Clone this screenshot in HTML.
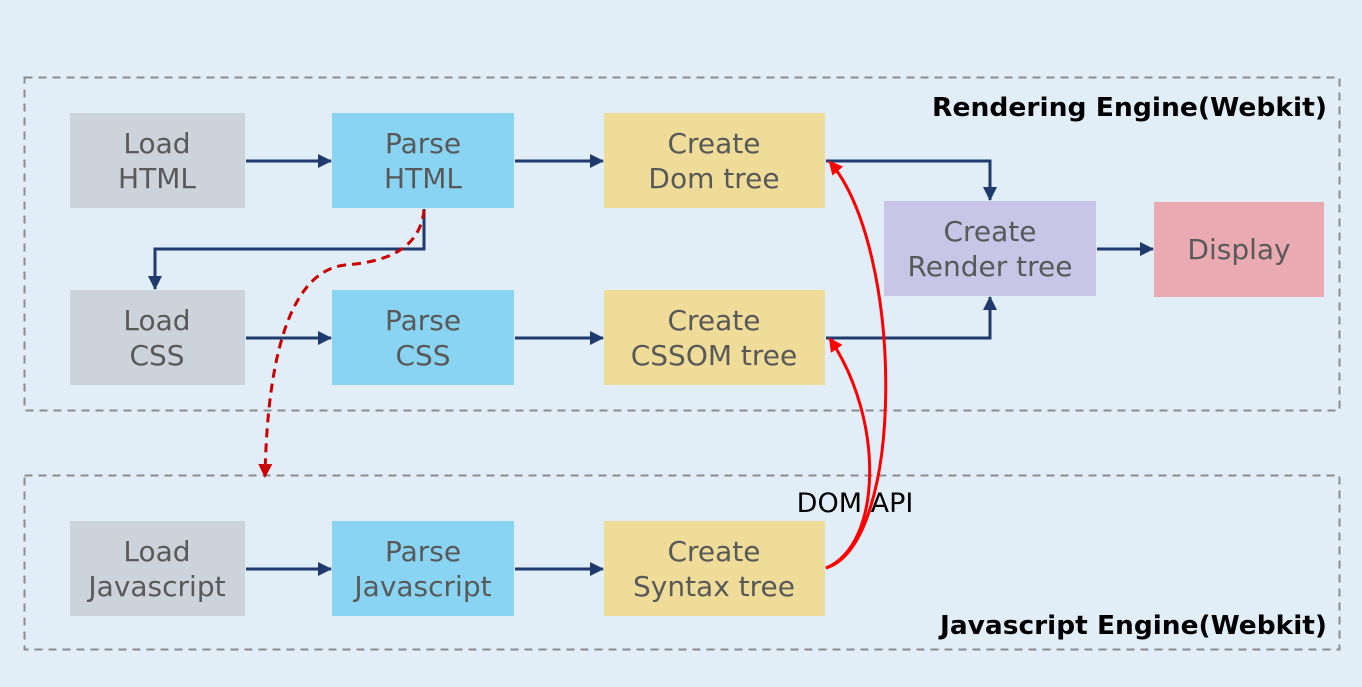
<!DOCTYPE html>
<html><head><meta charset="utf-8"><style>
html,body{margin:0;padding:0;background:#e1eef8;}
svg{display:block;}
text{font-family:"DejaVu Sans","Liberation Sans",sans-serif;}
</style></head><body>
<svg width="1362" height="687" viewBox="0 0 1362 687" xmlns="http://www.w3.org/2000/svg">
<defs>
<marker id="b" markerWidth="14" markerHeight="14" refX="13" refY="7" orient="auto" markerUnits="userSpaceOnUse" viewBox="0 0 14 14"><path d="M0,0 L14,7 L0,14 z" fill="#1f3b6e"/></marker>
<marker id="r" markerWidth="14" markerHeight="14" refX="12" refY="7" orient="auto" markerUnits="userSpaceOnUse" viewBox="0 0 14 14"><path d="M0,0 L14,7 L0,14 z" fill="#ff0000"/></marker>
<marker id="dr" markerWidth="14" markerHeight="14" refX="12" refY="7" orient="auto" markerUnits="userSpaceOnUse" viewBox="0 0 14 14"><path d="M0,0 L14,7 L0,14 z" fill="#cc0000"/></marker>
</defs>
<rect x="0" y="0" width="1362" height="687" fill="#e1eef8"/>
<rect x="24.5" y="77.5" width="1315" height="333" fill="none" stroke="#8c8c8c" stroke-width="2" stroke-dasharray="8,6"/>
<rect x="24.5" y="475.5" width="1315" height="174" fill="none" stroke="#8c8c8c" stroke-width="2" stroke-dasharray="8,6"/>

<g font-size="28" fill="#595959" text-anchor="middle">
<rect x="70" y="113" width="175" height="95" fill="#cdd3da"/>
<text x="157" y="153">Load</text><text x="157" y="188">HTML</text>
<rect x="332" y="113" width="182" height="95" fill="#8ad4f3"/>
<text x="423" y="153">Parse</text><text x="423" y="188">HTML</text>
<rect x="604" y="113" width="221" height="95" fill="#eedc98"/>
<text x="714" y="153">Create</text><text x="714" y="188">Dom tree</text>

<rect x="70" y="290" width="175" height="95" fill="#cdd3da"/>
<text x="157" y="330">Load</text><text x="157" y="365">CSS</text>
<rect x="332" y="290" width="182" height="95" fill="#8ad4f3"/>
<text x="423" y="330">Parse</text><text x="423" y="365">CSS</text>
<rect x="604" y="290" width="221" height="95" fill="#eedc98"/>
<text x="714" y="330">Create</text><text x="714" y="365">CSSOM tree</text>

<rect x="70" y="521" width="175" height="95" fill="#cdd3da"/>
<text x="157" y="561">Load</text><text x="157" y="596">Javascript</text>
<rect x="332" y="521" width="182" height="95" fill="#8ad4f3"/>
<text x="423" y="561">Parse</text><text x="423" y="596">Javascript</text>
<rect x="604" y="521" width="221" height="95" fill="#eedc98"/>
<text x="714" y="561">Create</text><text x="714" y="596">Syntax  tree</text>

<rect x="884" y="201" width="212" height="95" fill="#c9c5e6"/>
<text x="990" y="241">Create</text><text x="990" y="276">Render tree</text>
<rect x="1154" y="202" width="170" height="95" fill="#eaaab2"/>
<text x="1239" y="259">Display</text>
</g>

<g fill="#000" font-weight="bold" font-size="26">
<text x="932" y="116" textLength="395" lengthAdjust="spacingAndGlyphs">Rendering Engine(Webkit)</text>
<text x="940" y="634" textLength="387" lengthAdjust="spacingAndGlyphs">Javascript Engine(Webkit)</text>
</g>
<text x="855" y="512" font-size="27" fill="#000" text-anchor="middle">DOM API</text>

<g stroke="#1f3b6e" stroke-width="3" fill="none">
<line x1="246" y1="161" x2="331" y2="161" marker-end="url(#b)"/>
<line x1="515" y1="161" x2="603" y2="161" marker-end="url(#b)"/>
<line x1="246" y1="338" x2="331" y2="338" marker-end="url(#b)"/>
<line x1="515" y1="338" x2="603" y2="338" marker-end="url(#b)"/>
<line x1="246" y1="569" x2="331" y2="569" marker-end="url(#b)"/>
<line x1="515" y1="569" x2="603" y2="569" marker-end="url(#b)"/>
<polyline points="826,161 990,161 990,200" marker-end="url(#b)"/>
<polyline points="826,338 990,338 990,297" marker-end="url(#b)"/>
<polyline points="424,209 424,249 155,249 155,289" marker-end="url(#b)"/>
<line x1="1097" y1="249" x2="1153" y2="249" marker-end="url(#b)"/>
</g>

<path d="M424,210 C420,250 385,262 345,265 C300,270 268,330 265,476" fill="none" stroke="#cc0000" stroke-width="3" stroke-dasharray="9,6" marker-end="url(#dr)"/>
<path d="M826,568 C905,545 905,250 830,162" fill="none" stroke="#ff0000" stroke-width="3" marker-end="url(#r)"/>
<path d="M826,568 C882,545 885,420 830,339" fill="none" stroke="#ff0000" stroke-width="3" marker-end="url(#r)"/>
</svg>
</body></html>
